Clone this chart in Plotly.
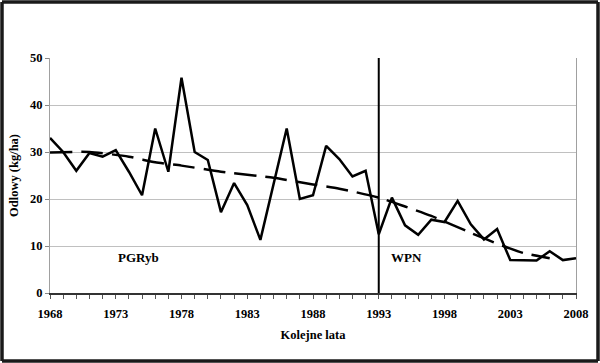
import plotly.graph_objects as go

years = list(range(1968, 2009))
odlowy = [33.0, 30.0, 26.0, 29.8, 29.0, 30.4, 25.8, 20.8, 35.0, 25.8,
          45.8, 30.0, 28.3, 17.2, 23.4, 18.7, 11.3, 23.5, 35.0, 20.0,
          20.8, 31.3, 28.5, 24.8, 26.0, 12.5, 20.3, 14.4, 12.4, 15.6,
          15.1, 19.6, 14.6, 11.4, 13.6, 7.0, 7.0, 6.9, 8.9, 7.0, 7.4]
# trend line values
trend_years = [1968, 1971, 1974, 1976, 1978, 1981, 1985, 1988, 1990, 1993,
               1995, 1997, 2000, 2002, 2004, 2006]
trend_values = [29.9, 30.0, 29.0, 27.8, 27.1, 25.8, 24.5, 23.1, 22.2, 20.3,
                18.4, 16.4, 12.8, 10.5, 8.5, 7.4]
tick_years = [1968, 1973, 1978, 1983, 1988, 1993, 1998, 2003, 2008]
y_ticks = [0, 10, 20, 30, 40, 50]
period_labels = ["PGRyb", "WPN"]
split_year = 1993

FONT = "Liberation Serif"

fig = go.Figure()
fig.add_trace(go.Scatter(x=trend_years, y=trend_values, mode="lines",
                         line=dict(color="black", width=2.5, dash="22px,9px",
                                   shape="spline", smoothing=0.6),
                         hoverinfo="skip", showlegend=False))
fig.add_trace(go.Scatter(x=years, y=odlowy, mode="lines",
                         line=dict(color="black", width=2.5),
                         showlegend=False))

fig.add_shape(type="line", x0=split_year, x1=split_year, y0=0, y1=50,
              xref="x", yref="y", line=dict(color="black", width=2))

L, R, T, B = 50, 24, 58, 70
W, H = 600, 363
pw, ph = W - L - R, H - T - B


def px_x(p):
    return (p - L) / pw


def px_y(p):
    return (T + ph - p) / ph


# outer frame as four lines (pixel positions converted to paper fractions)
e = 2.0
for x0, y0, x1, y1 in [(e, e, W - e, e), (e, H - e, W - e, H - e),
                       (e, e, e, H - e), (W - e, e, W - e, H - e)]:
    fig.add_shape(type="line", xref="paper", yref="paper",
                  x0=px_x(x0), y0=px_y(y0), x1=px_x(x1), y1=px_y(y1),
                  line=dict(color="#1a1a1a", width=3.5), layer="above")

fig.add_annotation(x=1974.7, y=7.5, text="<b>%s</b>" % period_labels[0], showarrow=False,
                   font=dict(family=FONT, size=13, color="black"), xref="x", yref="y")
fig.add_annotation(x=1995.1, y=7.5, text="<b>%s</b>" % period_labels[1], showarrow=False,
                   font=dict(family=FONT, size=13, color="black"), xref="x", yref="y")

fig.update_layout(
    width=W, height=H,
    margin=dict(l=L, r=R, t=T, b=B),
    paper_bgcolor="white", plot_bgcolor="white",
    font=dict(family=FONT, size=12, color="black"),
    xaxis=dict(range=[1968, 2008], tickmode="array",
               tickvals=years,
               ticktext=["<b>%d</b>" % y if y in tick_years else "" for y in years],
               ticks="outside", ticklen=4, tickcolor="#555555",
               ticklabelstandoff=4, automargin=False,
               showgrid=False, zeroline=False,
               showline=True, linecolor="#333333", linewidth=1.5,
               title=dict(text="<b>Kolejne lata</b>", standoff=10,
                          font=dict(family=FONT, size=12.5)),
               tickfont=dict(family=FONT, size=12.5)),
    yaxis=dict(range=[0, 50], tickmode="array", tickvals=y_ticks,
               ticktext=["<b>%d</b>" % v for v in y_ticks],
               ticks="outside", ticklen=4, tickcolor="#888888",
               automargin=False,
               showgrid=True, gridcolor="#c0c0c0", gridwidth=1,
               zeroline=False, showline=True, linecolor="#a0a0a0", linewidth=1,
               mirror=True,
               title=dict(text="<b>Odlowy (kg/ha)</b>", standoff=8,
                          font=dict(family=FONT, size=12.5)),
               tickfont=dict(family=FONT, size=12.5)),
)

post = "document.body.style.margin='0';document.body.style.overflow='hidden';"
fig.write_html("out.html", post_script=post, config={"displayModeBar": False})
